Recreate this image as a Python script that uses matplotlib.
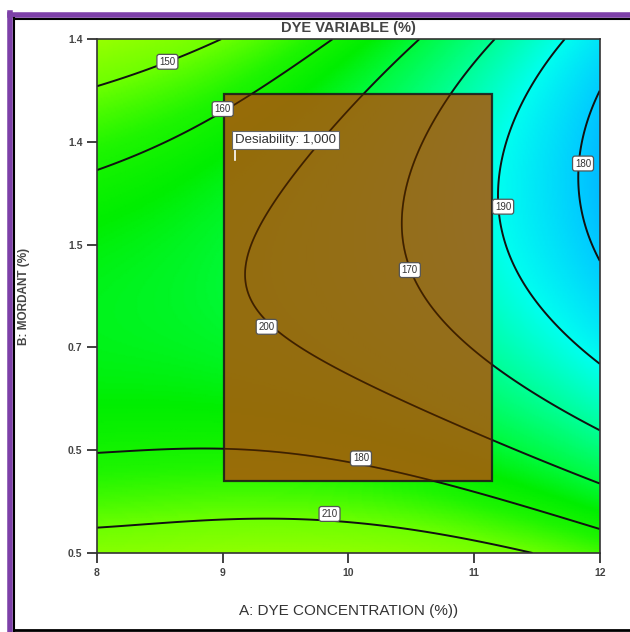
import numpy as np
import matplotlib
matplotlib.use("Agg")
import matplotlib.pyplot as plt
from matplotlib.colors import LinearSegmentedColormap
from matplotlib.patches import Rectangle

# contour lines: (dye concentration, mordant tick position)
line_l0 = [(12.0, 4.57), (11.907, 4.18), (11.867, 3.79), (11.881, 3.40), (11.947, 3.01), (12.0, 2.85)]
line_l1 = [(11.682, 5.0), (11.443, 4.57), (11.258, 4.115), (11.218, 3.63), (11.231, 3.37),
           (11.284, 2.98), (11.417, 2.51), (11.656, 2.234), (12.0, 1.812)]
line_l2 = [(11.151, 5.0), (10.833, 4.472), (10.622, 4.017), (10.463, 3.563), (10.41, 3.142),
           (10.489, 2.753), (10.584, 2.51), (10.86, 2.137), (11.151, 1.812), (11.602, 1.488), (12.0, 1.18)]
line_l3 = [(10.555, 5.0), (10.277, 4.633), (10.052, 4.358), (9.641, 3.888), (9.322, 3.402),
           (9.163, 2.98), (9.137, 2.656), (9.19, 2.396), (9.35, 2.201), (9.668, 1.943),
           (10.052, 1.717), (10.542, 1.488), (11.151, 1.083), (11.602, 0.856), (12.0, 0.678)]
line_l4a = [(8.024, 3.758), (8.342, 3.915), (8.74, 4.109), (9.004, 4.277), (9.27, 4.472),
            (9.535, 4.718), (9.853, 4.99)]
line_l4b = [(8.024, 0.937), (8.342, 1.002), (8.74, 1.051), (9.058, 1.041), (9.535, 0.97),
            (10.06, 0.895), (10.648, 0.694), (11.338, 0.483), (12.0, 0.24)]
line_l5a = [(8.02, 4.51), (8.30, 4.65), (8.56, 4.78), (8.82, 4.90), (8.98, 4.98)]
line_l5b = [(8.024, 0.159), (8.475, 0.272), (9.137, 0.343), (9.797, 0.328), (10.05, 0.306),
            (10.54, 0.19), (11.07, 0.078), (11.55, 0.0)]
# a few shade samples between the lines
shade_pts = [(8.0, 5.0, 5.7), (8.0, 0.0, 5.6), (8.0, 2.3, 3.4), (12.0, 3.7, -0.4), (12.0, 5.0, 0.6)]

levels = [0, 1, 2, 3, 4, 5]
level_lines = [(0, line_l0), (1, line_l1), (2, line_l2), (3, line_l3),
               (4, line_l4a), (4, line_l4b), (5, line_l5a), (5, line_l5b)]

x_ticks = [8, 9, 10, 11, 12]
x_ticklabels = ["8", "9", "10", "11", "12"]
y_ticks = [0, 1, 2, 3, 4, 5]
y_ticklabels = ["0.5", "0.5", "0.7", "1.5", "1.4", "1.4"]

opt_region = (9.01, 11.14, 0.70, 4.47)   # x0, x1, y0, y1
flag_pt = (9.1, 3.82)

# labels sit on a point of each traced line
contour_tags = [("150", line_l5a[2]), ("160", (9.0, 4.32)), ("200", line_l3[8]),
                ("170", line_l2[5]), ("190", line_l1[4]), ("180", line_l0[2]),
                ("180", (10.1, 0.92)), ("210", (9.85, 0.38))]

FONT = "Liberation Sans"

# least squares surface through the traced lines
px, py, pz = [], [], []
for lv, pts in level_lines:
    for a, b in pts:
        px.append(a); py.append(b); pz.append(lv)
for a, b, c in shade_pts:
    px.append(a); py.append(b); pz.append(c)
px = np.array(px); py = np.array(py); pz = np.array(pz, dtype=float)

def terms(x, y, deg=4):
    X = (x - 10) / 2
    Y = (y - 2.5) / 2.5
    return np.stack([X**i * Y**j for i in range(deg + 1) for j in range(deg + 1 - i)], axis=-1)

coef, *_ = np.linalg.lstsq(terms(px, py), pz, rcond=None)

gx, gy = np.meshgrid(np.linspace(8, 12, 300), np.linspace(0, 5, 300))
gz = terms(gx, gy) @ coef

anchors = [(-1.0, (0, 150, 255)), (0.0, (0, 205, 255)), (1.0, (0, 255, 240)),
           (2.0, (0, 255, 150)), (3.0, (0, 250, 60)), (3.6, (0, 238, 0)),
           (4.2, (30, 245, 0)), (5.0, (110, 255, 0)), (6.5, (190, 255, 0))]
vmin, vmax = -1.0, 6.5
cmap = LinearSegmentedColormap.from_list(
    "de", [((v - vmin) / (vmax - vmin), tuple(c / 255 for c in col)) for v, col in anchors])

fig = plt.figure(figsize=(6.3, 6.32), dpi=100)
ax = fig.add_axes([0.154, 0.125, 0.798, 0.813])

ax.pcolormesh(gx, gy, gz, cmap=cmap, vmin=vmin, vmax=vmax, shading="gouraud")
ax.contour(gx, gy, gz, levels=levels, colors="#111111", linewidths=1.4)

x0, x1, y0, y1 = opt_region
rect = Rectangle((x0, y0), x1 - x0, y1 - y0, facecolor=(170/255, 90/255, 10/255),
                 alpha=0.88, edgecolor="#1a1a1a", linewidth=1.6, zorder=3)
ax.add_patch(rect)
# contour lines stay visible (dark brown) through the shaded region
inner = ax.contour(gx, gy, gz, levels=levels, colors="#3a2300", linewidths=1.2, zorder=4)
inner.set_clip_path(rect)

for txt, (a, b) in contour_tags:
    ax.text(a, b, txt, fontsize=7, family=FONT, color="#333333",
            ha="center", va="center", zorder=5,
            bbox=dict(boxstyle="round,pad=0.25", fc="white", ec="#555555", lw=0.9))

ax.plot([flag_pt[0], flag_pt[0]], [flag_pt[1], flag_pt[1] + 0.14], color="white", lw=1.2, zorder=5)
ax.text(flag_pt[0], flag_pt[1] + 0.14, "Desiability: 1,000", fontsize=9.5,
        family=FONT, color="#333333", ha="left", va="bottom", zorder=6,
        bbox=dict(boxstyle="square,pad=0.22", fc="white", ec="#666666", lw=0.8))

ax.set_xlim(8, 12)
ax.set_ylim(0, 5)
ax.set_xticks(x_ticks)
ax.set_xticklabels(x_ticklabels)
ax.set_yticks(y_ticks)
ax.set_yticklabels(y_ticklabels)
ax.tick_params(direction="out", length=7, width=1.3, color="#333333", labelsize=7.5,
               labelcolor="#444444")
for lab in ax.get_xticklabels() + ax.get_yticklabels():
    lab.set_family(FONT)
    lab.set_fontweight("bold")
for s in ax.spines.values():
    s.set_color("#333333")
    s.set_linewidth(1.2)

ax.set_title("DYE VARIABLE (%)", fontsize=10.5, family=FONT, fontweight="bold",
             color="#444444", pad=5)
ax.set_xlabel("A: DYE CONCENTRATION (%))", fontsize=11, family=FONT,
              color="#333333", labelpad=19)
ax.set_ylabel("B: MORDANT (%)", fontsize=8.5, family=FONT, fontweight="bold",
              color="#444444", labelpad=27)

# frame around the picture
fig.add_artist(plt.Line2D([0.016, 1.0], [0.977, 0.977], color="#7d40a8", lw=4, transform=fig.transFigure))
fig.add_artist(plt.Line2D([0.023, 1.0], [0.970, 0.970], color="black", lw=1.5, transform=fig.transFigure))
fig.add_artist(plt.Line2D([0.016, 0.016], [0.0, 0.980], color="#7d40a8", lw=4, transform=fig.transFigure))
fig.add_artist(plt.Line2D([0.023, 0.023], [0.0, 0.971], color="black", lw=1.5, transform=fig.transFigure))
fig.add_artist(plt.Line2D([0.023, 1.0], [0.003, 0.003], color="black", lw=2, transform=fig.transFigure))

fig.savefig("out.png", dpi=100)
